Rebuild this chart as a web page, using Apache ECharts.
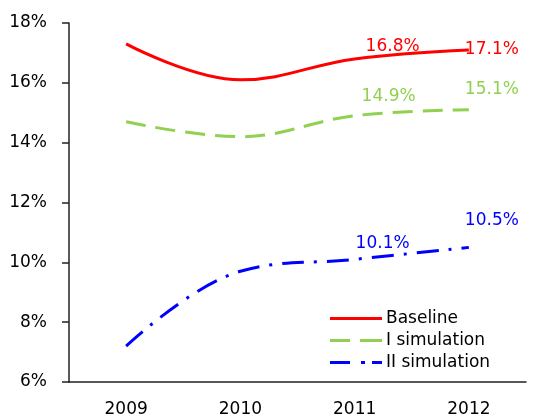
<!DOCTYPE html>
<html>
<head>
<meta charset="utf-8">
<script src="https://cdn.jsdelivr.net/npm/echarts@6/dist/echarts.min.js"></script>
<style>
  html, body { margin: 0; padding: 0; background: #fff; }
  #chart { width: 533px; height: 418px; }
</style>
</head>
<body>
<div id="chart"></div>
<script>
var years = ['2009', '2010', '2011', '2012'];
var baseline = [17.3, 16.1, 16.8, 17.1];
var simI = [14.7, 14.2, 14.9, 15.1];
var simII = [7.2, 9.7, 10.1, 10.5];
var seriesNames = ['Baseline', 'I simulation', 'II simulation'];
var labelled = [false, false, true, true];

// label offsets per series (only for the labelled years)
var offsets = {
  'Baseline': [null, null, [38, -12], [23, 0]],
  'I simulation': [null, null, [34, -19], [23, -20]],
  'II simulation': [null, null, [28, -16], [23, -27]]
};

// legend icons drawn as little dash patterns
var legendIcons = {
  'Baseline': 'path://M0,0H52V3H0Z',
  'I simulation': 'path://M0,0H20V3H0Z M30,0H52V3H30Z',
  'II simulation': 'path://M0,0H20V3H0Z M31,0H35V3H31Z M42,0H52V3H42Z'
};

function buildData(name, values, color) {
  return values.map(function (v, i) {
    if (!labelled[i]) return v;
    return {
      value: v,
      symbol: 'circle',
      symbolSize: 1,
      itemStyle: { color: 'rgba(0,0,0,0)' },
      label: {
        show: true,
        position: 'inside',
        offset: offsets[name][i],
        color: color,
        fontSize: 17,
        fontFamily: 'DejaVu Sans',
        formatter: function (p) { return p.value.toFixed(1) + '%'; }
      }
    };
  });
}

var colors = { 'Baseline': '#FF0000', 'I simulation': '#92D050', 'II simulation': '#0000FF' };

var chart = echarts.init(document.getElementById('chart'));
var option = {
  animation: false,
  textStyle: { fontFamily: 'DejaVu Sans' },
  grid: { left: 69, right: 7, top: 23, bottom: 36 },
  legend: {
    orient: 'vertical',
    left: 325,
    top: 305,
    itemWidth: 52,
    itemHeight: 14,
    itemGap: 5,
    textStyle: { fontSize: 17, color: '#000', fontFamily: 'DejaVu Sans', padding: [0, 0, 0, -1] },
    data: seriesNames.map(function (n) {
      return { name: n, icon: legendIcons[n], itemStyle: { color: colors[n] } };
    })
  },
  xAxis: {
    type: 'category',
    data: years,
    axisLine: { lineStyle: { color: '#222', width: 1.5 } },
    axisTick: { length: 6, lineStyle: { color: '#222', width: 1.5 } },
    axisLabel: { color: '#000', fontSize: 17, margin: 19 }
  },
  yAxis: {
    type: 'value',
    min: 6,
    max: 18,
    interval: 2,
    axisLine: { show: true, lineStyle: { color: '#222', width: 1.5 } },
    axisTick: { show: true, length: 7, lineStyle: { color: '#222', width: 1.5 } },
    splitLine: { show: false },
    axisLabel: { color: '#000', fontSize: 17, margin: 22, formatter: '{value}%' }
  },
  series: [
    {
      name: 'Baseline',
      type: 'line',
      smooth: 0.4,
      symbol: 'none',
      color: colors['Baseline'],
      lineStyle: { color: colors['Baseline'], width: 3 },
      data: buildData('Baseline', baseline, colors['Baseline'])
    },
    {
      name: 'I simulation',
      type: 'line',
      smooth: 0.4,
      symbol: 'none',
      color: colors['I simulation'],
      lineStyle: { color: colors['I simulation'], width: 3, type: [20, 10] },
      data: buildData('I simulation', simI, colors['I simulation'])
    },
    {
      name: 'II simulation',
      type: 'line',
      smooth: 0.4,
      symbol: 'none',
      color: colors['II simulation'],
      lineStyle: { color: colors['II simulation'], width: 3, type: [22, 10, 3, 10] },
      data: buildData('II simulation', simII, colors['II simulation'])
    }
  ]
};
chart.setOption(option);
window.addEventListener('resize', function () {
  chart.resize();
});
</script>
</body>
</html>
